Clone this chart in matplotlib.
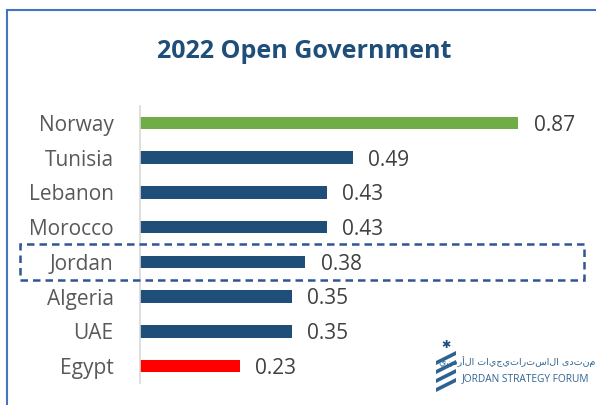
import matplotlib.pyplot as plt
from matplotlib.patches import Rectangle, Polygon

countries = ['Norway', 'Tunisia', 'Lebanon', 'Morocco', 'Jordan', 'Algeria', 'UAE', 'Egypt']
scores = [0.87, 0.49, 0.43, 0.43, 0.38, 0.35, 0.35, 0.23]
bar_colors = ['#70AD47', '#1F4E79', '#1F4E79', '#1F4E79', '#1F4E79', '#1F4E79', '#1F4E79', '#FF0000']

W, H = 596, 405
fig = plt.figure(figsize=(W / 100, H / 100), dpi=100)
plt.rcParams['font.family'] = ['Open Sans', 'DejaVu Sans']


def fx(px):
    return px / W


def fy(py):
    return 1 - py / H


# outer frame (only left and top edges visible)
fig.patches.append(Rectangle((fx(7), fy(420)), fx(700), 420 / H - 10 / H,
                             transform=fig.transFigure, fill=False,
                             edgecolor='#4472C4', linewidth=1.5))

# axes: zero at x=140px, 435 px per unit; rows every ~34.7 px
row = 34.7
top, bottom = 123 - row / 2, 366 + row / 2
ax = fig.add_axes([fx(140), fy(bottom), fx(435 * 1.05), (bottom - top) / H])
y = list(range(len(countries)))
ax.barh(y, scores, height=0.36, color=bar_colors)
ax.set_xlim(0, 1.05)
ax.set_ylim(len(countries) - 0.5, -0.5)
ax.set_yticks(y)
ax.set_yticklabels(countries, fontsize=15, color='#595959')
ax.tick_params(axis='y', length=0, pad=19)
ax.set_xticks([])
for s in ['top', 'right', 'bottom']:
    ax.spines[s].set_visible(False)
ax.spines['left'].set_color('#D9D9D9')
ax.spines['left'].set_linewidth(1.2)
ax.patch.set_alpha(0)

for yi, v in zip(y, scores):
    ax.text(v + 0.035, yi + 0.07, f'{v:.2f}', va='center', ha='left', fontsize=15, color='#404040')

fig.text(fx(304), fy(51), '2022 Open Government', ha='center', va='center',
         fontsize=18, fontweight='bold', color='#1F4E79')

# dashed highlight box around Jordan
fig.patches.append(Rectangle((fx(20), fy(280)), fx(564), 36 / H, transform=fig.transFigure,
                             fill=False, edgecolor='#2F5597', linewidth=1.8,
                             linestyle=(0, (3, 2))))

# logo
for i in range(4):
    y0 = 355 + i * 9
    fig.patches.append(Polygon([(fx(436), fy(y0 + 6)), (fx(456), fy(y0 - 4)),
                                (fx(456), fy(y0)), (fx(436), fy(y0 + 10))],
                               transform=fig.transFigure, closed=True,
                               facecolor='#2E6391', edgecolor='none'))
fig.text(fx(446), fy(346), '✱', ha='center', va='center', fontsize=8, color='#1F4E79')
fig.text(fx(595), fy(362), 'منتدى الاستراتيجيات الأردني'[::-1], ha='right', va='center',
         fontsize=6.8, color='#2E6391', family=['DejaVu Sans'])
fig.text(fx(462), fy(379), 'JORDAN STRATEGY FORUM', ha='left', va='center',
         fontsize=7.3, color='#2E6391')

fig.savefig('out.png', dpi=100)
